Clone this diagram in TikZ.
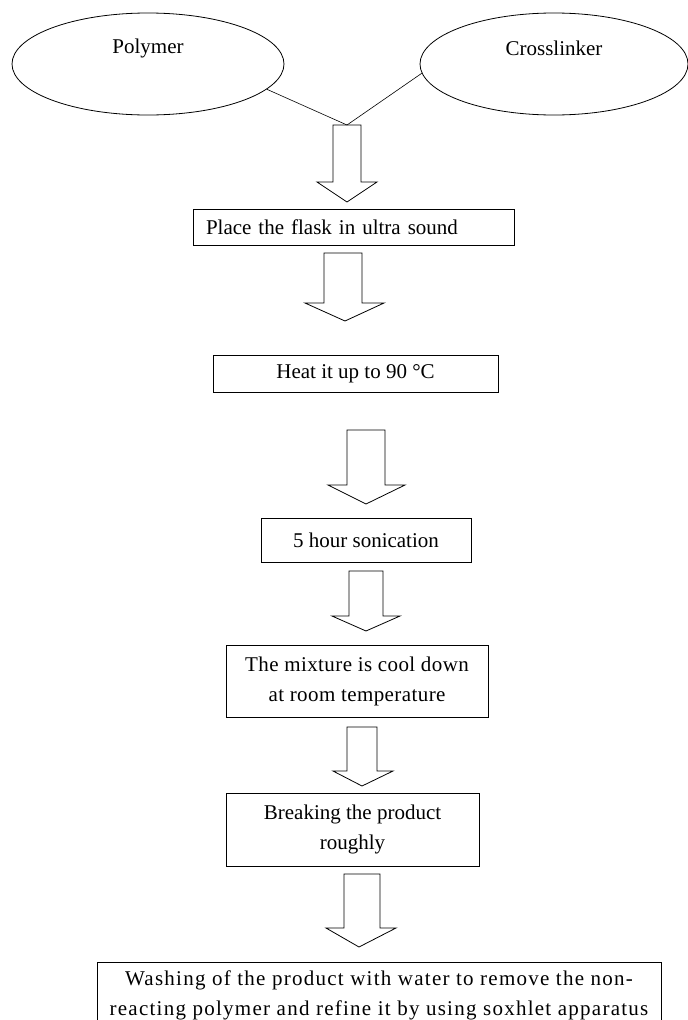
\documentclass[tikz,border=0pt]{standalone}
\usepackage{fontspec}
\setmainfont{Liberation Serif}
\usetikzlibrary{shapes.geometric}
\tikzset{
  stepbox/.style={draw, line width=0.9pt, align=center, inner sep=0pt,
    font=\fontsize{21}{30}\selectfont},
  widebox/.style={stepbox, font=\fontsize{21}{30}\selectfont\addfontfeature{LetterSpace=#1}},
  blob/.style={draw, ellipse, line width=0.8pt, inner sep=0pt},
  blobtext/.style={font=\fontsize{21}{25}\selectfont},
  fatarrow/.style={draw, line width=0.8pt, line join=miter}
}
\begin{document}
\begin{tikzpicture}[x=1pt, y=-1pt]
  \useasboundingbox (0,0) rectangle (688,1020);

  \node[blob, minimum width=272, minimum height=102] (poly) at (148,64) {};
  \node[blob, minimum width=268, minimum height=102] (xlink) at (554,64) {};
  \node[blobtext] (polytext) at (148,48) {Polymer};
  \node[blobtext] (xlinktext) at (554,48) {Crosslinker};
  \coordinate (join) at (347,125);
  \draw[line width=0.6pt] (poly.-12) -- (join);
  \draw[line width=0.6pt] (xlink.-176) -- (join);

  \foreach \ax/\bx/\ay/\by/\cx/\dx/\tx/\ty [count=\i] in {
    333/361/125/182/317/377/347/202,
    324/362/253/303/305/384/345/321,
    347/385/430/485/328/405/366/504,
    349/383/571/616/332/400/366/631,
    347/377/727/771/333/393/362/786,
    344/380/874/928/326/396/359/947} {
    \draw[fatarrow] (\ax,\ay) -- (\ax,\by) -- (\cx,\by) -- (\tx,\ty)
      -- (\dx,\by) -- (\bx,\by) -- (\bx,\ay) -- cycle;
  }

  \node[stepbox, minimum width=321, minimum height=36, text width=295, align=left]
    (flask) at (353.5,227) {Place the flask in ultra sound};
  \node[stepbox, minimum width=285, minimum height=37] (heat) at (355.5,373.5)
    {Heat it up to 90 °C};
  \node[stepbox, minimum width=210, minimum height=44] (sonic) at (366,540)
    {5 hour sonication};
  \node[widebox=2, minimum width=262, minimum height=72] (cool) at (357,681)
    {The mixture is cool down\\at room temperature};
  \node[stepbox, minimum width=253, minimum height=73] (break) at (352.5,829.5)
    {Breaking the product\\roughly};
  \node[widebox=6, minimum width=564, minimum height=66] (wash) at (379,995)
    {Washing of the product with water to remove the non-\\reacting polymer and refine it by using soxhlet apparatus};
\end{tikzpicture}
\end{document}
